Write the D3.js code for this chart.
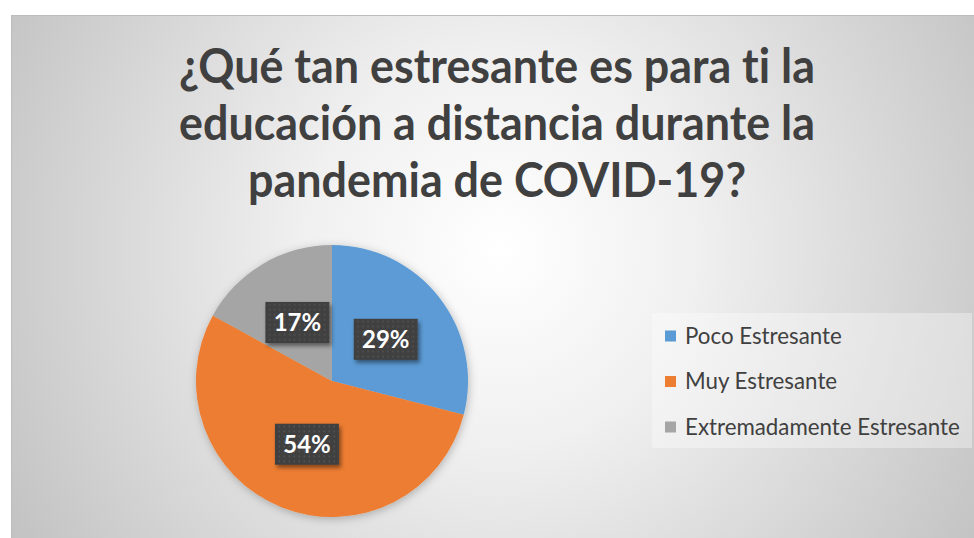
<!DOCTYPE html>
<html>
<head>
<meta charset="utf-8">
<script src="https://cdn.jsdelivr.net/npm/d3@7"></script>
<style>
  html, body { margin: 0; padding: 0; background: #fff; }
  svg { display: block; }
  text { font-variant-ligatures: none; font-feature-settings: "liga" 0, "clig" 0; }
</style>
</head>
<body>
<svg id="chart" width="974" height="538"></svg>
<script>
var width = 974,
    height = 538;

// data
var categories = ["Poco Estresante", "Muy Estresante", "Extremadamente Estresante"];
var values = [29, 54, 17];
var sliceColors = ["#5B9BD5", "#ED7D31", "#A5A5A5"];
var titleLines = [
  "¿Qué tan estresante es para ti la",
  "educación a distancia durante la",
  "pandemia de COVID-19?"
];

var svg = d3.select("#chart");
var defs = svg.append("defs");

// background: soft radial gray
var bg = defs.append("radialGradient")
  .attr("id", "bgGrad")
  .attr("gradientUnits", "userSpaceOnUse")
  .attr("cx", 500).attr("cy", 250).attr("r", 560);
bg.append("stop").attr("offset", "0%").attr("stop-color", "#ffffff");
bg.append("stop").attr("offset", "35%").attr("stop-color", "#f0f0f0");
bg.append("stop").attr("offset", "100%").attr("stop-color", "#c3c3c3");

// dotted fill for the data labels
var pat = defs.append("pattern")
  .attr("id", "dots")
  .attr("patternUnits", "userSpaceOnUse")
  .attr("width", 5).attr("height", 5);
pat.append("rect").attr("width", 5).attr("height", 5).attr("fill", "#3f3f3f");
pat.append("rect").attr("x", 1.5).attr("y", 1.5).attr("width", 1.6).attr("height", 1.6).attr("fill", "#575757");

var shadow = defs.append("filter").attr("id", "shadow")
  .attr("x", "-30%").attr("y", "-30%").attr("width", "160%").attr("height", "160%");
shadow.append("feDropShadow")
  .attr("dx", 2).attr("dy", 3).attr("stdDeviation", 2)
  .attr("flood-color", "#000").attr("flood-opacity", 0.45);

var pieShadow = defs.append("filter").attr("id", "pieShadow")
  .attr("x", "-20%").attr("y", "-20%").attr("width", "140%").attr("height", "140%");
pieShadow.append("feDropShadow")
  .attr("dx", 1).attr("dy", 2).attr("stdDeviation", 4)
  .attr("flood-color", "#000").attr("flood-opacity", 0.25);

// chart area
svg.append("rect")
  .attr("x", 11.5).attr("y", 15.5)
  .attr("width", 975).attr("height", 540)
  .attr("fill", "url(#bgGrad)")
  .attr("stroke", "#bdbdbd")
  .attr("stroke-width", 1);

// title, sized to the width of the first line, stretched a bit in height
var title = svg.append("g").attr("class", "title");
var titleSize = 40;
var tLines = title.selectAll("text")
  .data(titleLines)
  .enter().append("text")
  .attr("transform", function(d, i) {
    return "translate(497," + (83 + i * 57) + ") scale(1,1.08)";
  })
  .attr("text-anchor", "middle")
  .attr("font-family", "Lato, 'Open Sans', sans-serif")
  .attr("font-weight", "bold")
  .attr("font-size", titleSize)
  .attr("fill", "#404040")
  .text(function(d) { return d; });
var w0 = tLines.node().getComputedTextLength();
titleSize = titleSize * 636 / w0;
tLines.attr("font-size", titleSize);

// pie
var cx = 332, cy = 381, radius = 136;

var pie = d3.pie().sort(null).value(function(d) { return d; });
var arc = d3.arc().innerRadius(0).outerRadius(radius);
var labelArc = d3.arc().innerRadius(radius * 0.5).outerRadius(radius * 0.5);

var color = d3.scaleOrdinal().domain(categories).range(sliceColors);

var arcs = pie(values);

var pieG = svg.append("g")
  .attr("transform", "translate(" + cx + "," + cy + ")");

pieG.append("g")
  .attr("filter", "url(#pieShadow)")
  .selectAll("path")
  .data(arcs)
  .enter().append("path")
  .attr("d", arc)
  .attr("fill", function(d, i) { return color(categories[i]); });

// data labels
var labels = pieG.selectAll("g.label")
  .data(arcs)
  .enter().append("g")
  .attr("class", "label")
  .attr("transform", function(d) {
    var c = labelArc.centroid(d);
    return "translate(" + c[0] + "," + c[1] + ")";
  });

labels.append("rect")
  .attr("x", -32).attr("y", -20.5)
  .attr("width", 64).attr("height", 41)
  .attr("fill", "url(#dots)")
  .attr("filter", "url(#shadow)");

labels.append("text")
  .attr("text-anchor", "middle")
  .attr("dy", "0.36em")
  .attr("font-family", "Lato, 'Open Sans', sans-serif")
  .attr("font-weight", "bold")
  .attr("font-size", 24)
  .attr("fill", "#ffffff")
  .text(function(d) { return d.data + "%"; });

// legend
var legend = svg.append("g").attr("class", "legend");
legend.append("rect")
  .attr("x", 652).attr("y", 313)
  .attr("width", 320).attr("height", 135)
  .attr("fill", "#ffffff").attr("fill-opacity", 0.35);

var rowY = d3.scalePoint().domain(categories).range([336, 427]);

var items = legend.selectAll("g.item")
  .data(categories)
  .enter().append("g")
  .attr("class", "item")
  .attr("transform", function(d) { return "translate(0," + rowY(d) + ")"; });

items.append("rect")
  .attr("x", 665).attr("y", -5.5)
  .attr("width", 11).attr("height", 11)
  .attr("fill", function(d) { return color(d); });

var legTexts = items.append("text")
  .attr("x", 685)
  .attr("dy", "0.35em")
  .attr("font-family", "Lato, 'Open Sans', sans-serif")
  .attr("font-size", 19)
  .attr("fill", "#404040")
  .text(function(d) { return d; });

var wLong = legTexts.filter(function(d, i) { return i === 2; }).node().getComputedTextLength();
legTexts.attr("font-size", 19 * 275 / wLong);
</script>
</body>
</html>
